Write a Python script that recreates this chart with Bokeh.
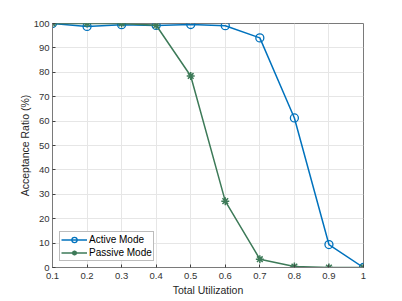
from bokeh.plotting import figure
from bokeh.models import Range1d, FixedTicker, Legend, LegendItem
from bokeh.embed import file_html
from bokeh.resources import INLINE

utilization = [0.1, 0.2, 0.3, 0.4, 0.5, 0.6, 0.7, 0.8, 0.9, 1.0]
active_mode = [100, 98.8, 99.5, 99.2, 99.6, 99.1, 94.1, 61.3, 9.4, 0]
passive_mode = [100, 100, 100, 99.3, 78.5, 27.2, 3.4, 0.4, 0, 0]
x_ticks = [0.1, 0.2, 0.3, 0.4, 0.5, 0.6, 0.7, 0.8, 0.9, 1.0]
y_ticks = [0, 10, 20, 30, 40, 50, 60, 70, 80, 90, 100]

BLUE = "#0072BD"
GREEN = "#3D7A58"
FONT = "Liberation Sans"
AXC = "#404040"

p = figure(frame_width=311, frame_height=244, output_backend="svg", toolbar_location=None,
           x_range=Range1d(0.1, 1.0), y_range=Range1d(0, 100),
           min_border_left=52, min_border_top=23, min_border_right=30, min_border_bottom=26,
           background_fill_color="white", border_fill_color="white")

p.outline_line_color = "#7a7a7a"
p.outline_line_width = 1

for ax in (p.xaxis[0], p.yaxis[0]):
    ax.axis_line_color = "#7a7a7a"
    ax.major_tick_line_color = AXC
    ax.major_tick_in = 3
    ax.major_tick_out = 0
    ax.minor_tick_line_color = None
    ax.major_label_text_font = FONT
    ax.major_label_text_font_size = "9.5px"
    ax.major_label_text_color = "#333333"
    ax.axis_label_text_font = FONT
    ax.axis_label_text_font_size = "10.5px"
    ax.axis_label_text_font_style = "normal"
    ax.axis_label_text_color = "#262626"

p.xaxis.ticker = FixedTicker(ticks=x_ticks)
p.yaxis.ticker = FixedTicker(ticks=y_ticks)
p.xaxis.major_label_overrides = {1: "1"}
p.xaxis.axis_label = "Total Utilization"
p.yaxis.axis_label = "Acceptance Ratio (%)"
p.xaxis.major_label_standoff = 5
p.yaxis.major_label_standoff = 3
p.xaxis.axis_label_standoff = 2
p.yaxis.axis_label_standoff = 0

p.xgrid.ticker = FixedTicker(ticks=x_ticks)
p.ygrid.ticker = FixedTicker(ticks=y_ticks)
p.grid.grid_line_color = "#e6e6e6"
p.grid.grid_line_width = 1

l1 = p.line(utilization, active_mode, line_color=BLUE, line_width=1.5)
m1 = p.scatter(utilization, active_mode, marker="circle", size=8, fill_color=None,
               line_color=BLUE, line_width=1.3)
l2 = p.line(utilization, passive_mode, line_color=GREEN, line_width=1.5)
m2 = p.scatter(utilization, passive_mode, marker="asterisk", size=8,
               line_color=GREEN, line_width=1.5)

legend = Legend(items=[LegendItem(label="Active Mode", renderers=[l1, m1]),
                       LegendItem(label="Passive Mode", renderers=[l2, m2])],
                location=(7, 6))
legend.margin = 0
legend.padding = 1
legend.spacing = 0
legend.glyph_width = 26
legend.glyph_height = 13
legend.label_height = 13
legend.label_standoff = 2
legend.label_text_font = FONT
legend.label_text_font_size = "10px"
legend.label_text_color = "#000000"
legend.border_line_color = "#7a7a7a"
legend.border_line_width = 1
legend.background_fill_color = "white"
legend.background_fill_alpha = 1
p.add_layout(legend, "center")

open("out.html", "w").write(file_html(p, INLINE))
